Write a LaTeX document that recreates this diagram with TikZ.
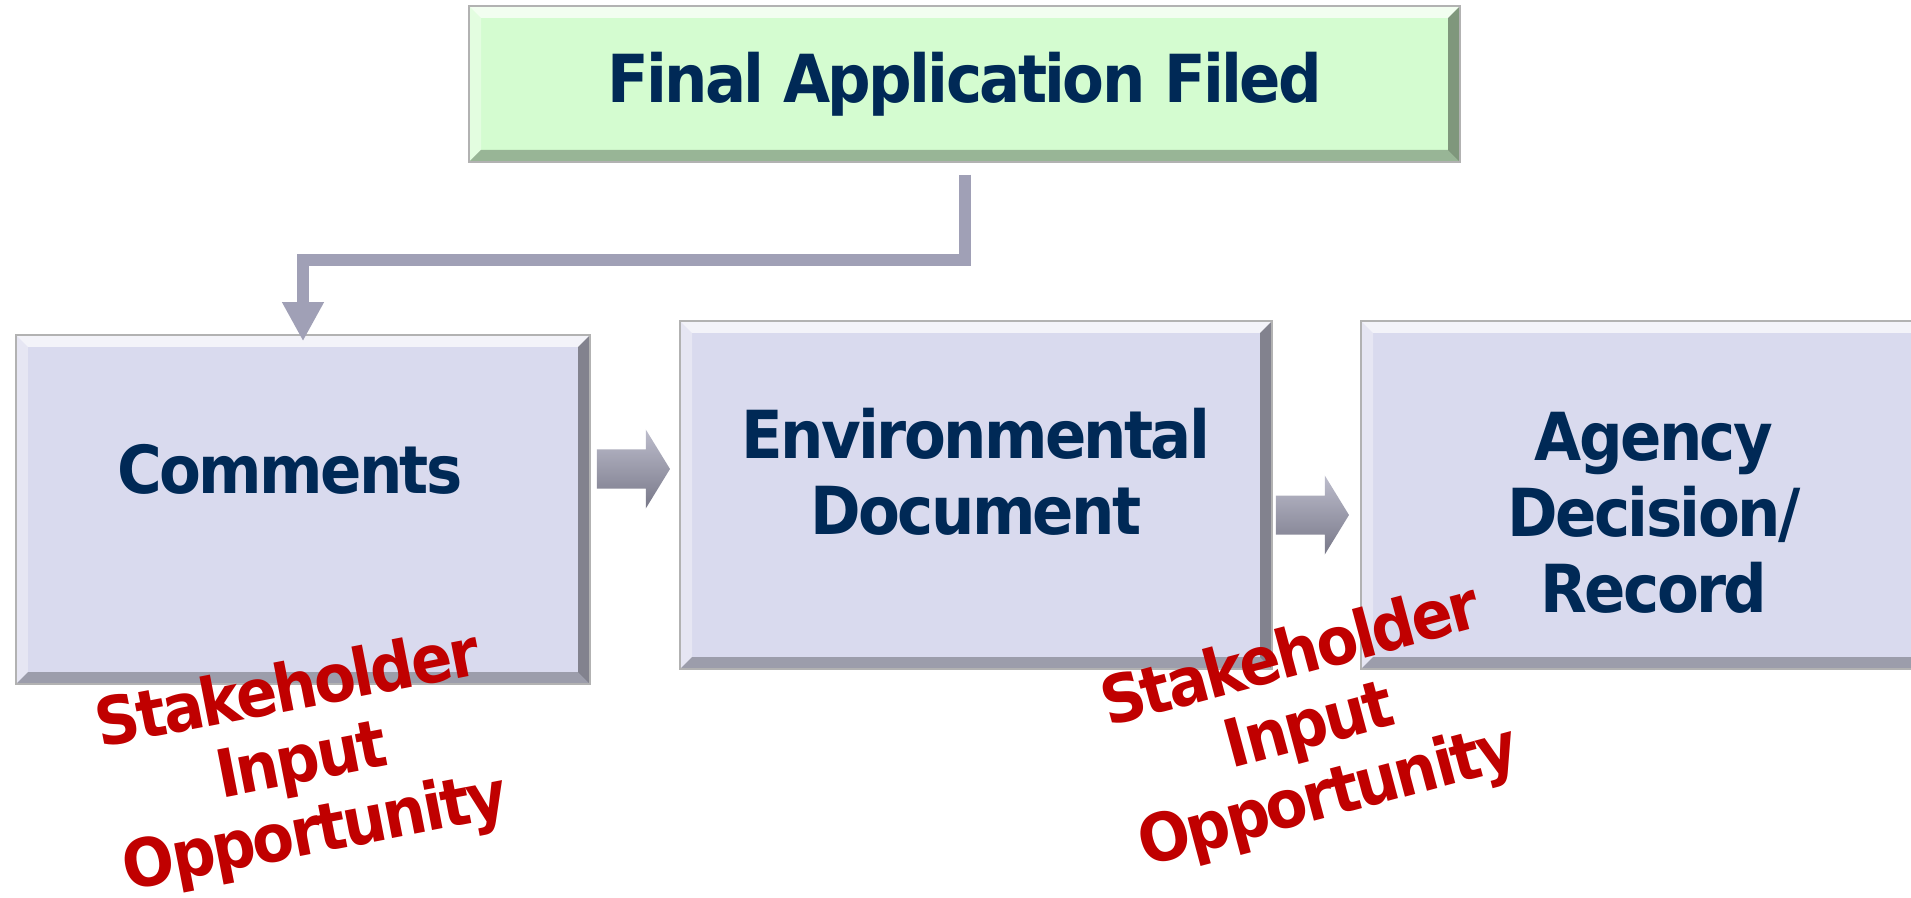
\documentclass[tikz,border=0pt]{standalone}
\usepackage{fontspec}
\setmainfont{DejaVu Sans}[FakeStretch=0.92,LetterSpace=-4]
\usetikzlibrary{arrows.meta}
\usetikzlibrary{shapes.arrows}

\definecolor{navy}{RGB}{0,41,86}
\definecolor{redtxt}{RGB}{192,0,0}
\definecolor{mint}{RGB}{212,252,208}
\definecolor{lav}{RGB}{217,218,238}
\definecolor{steel}{RGB}{160,160,182}

\def\bw{4.8pt}

\begin{document}
\begin{tikzpicture}[x=0.4pt,y=-0.4pt]
\tikzset{bevel/.style={path picture={
  \coordinate (nw) at (path picture bounding box.north west);
  \coordinate (ne) at (path picture bounding box.north east);
  \coordinate (sw) at (path picture bounding box.south west);
  \coordinate (se) at (path picture bounding box.south east);
  \fill[white,opacity=.7] (nw) -- (ne) -- ([shift={(-\bw,-\bw)}]ne) -- ([shift={(\bw,-\bw)}]nw) -- cycle;
  \fill[white,opacity=.35] (nw) -- ([shift={(\bw,-\bw)}]nw) -- ([shift={(\bw,\bw)}]sw) -- (sw) -- cycle;
  \fill[black,opacity=.4] (ne) -- (se) -- ([shift={(-\bw,\bw)}]se) -- ([shift={(-\bw,-\bw)}]ne) -- cycle;
  \fill[black,opacity=.28] (sw) -- (se) -- ([shift={(-\bw,\bw)}]se) -- ([shift={(\bw,\bw)}]sw) -- cycle;
}}}
\tikzset{box/.style={draw=gray!60, line width=0.6pt, bevel, inner sep=0pt}}
\tikzset{boxtext/.style={font=\bfseries\fontsize{26.5pt}{30.4pt}\selectfont, text=navy, align=center, inner sep=0pt}}
\tikzset{sio/.style={font=\bfseries\fontsize{26.5pt}{29pt}\selectfont, text=redtxt, align=center, inner sep=0pt}}
\tikzset{conn/.style={draw=steel, line width=4.8pt, -{Triangle[width=15.6pt,length=15.6pt]}}}
\tikzset{barrow/.style={single arrow, single arrow head extend=8pt, single arrow tip angle=117,
  minimum height=29.2pt, inner xsep=0pt, inner ysep=7.6pt, draw=none,
  top color=steel!70, middle color=white!85!steel, bottom color=steel!75!black}}

\useasboundingbox (0,0) rectangle (1911,898);

% boxes
\node[box, fill=mint, minimum width=396.4pt, minimum height=62.4pt] (fin) at (964.5,84) {};
\node[boxtext] (fintxt) at (fin.center) {Final Application Filed};
\node[box, fill=lav, minimum width=229.6pt, minimum height=139.6pt] (com) at (303,509.5) {};
\node[boxtext] (comtxt) at ([shift={(-5.2pt,16.2pt)}]com.center) {Comments};
\node[box, fill=lav, minimum width=236.8pt, minimum height=139.2pt] (env) at (976,495) {};
\node[boxtext] (envtxt) at ([yshift=9.2pt]env.center) {Environmental\\Document};
\node[box, fill=lav, minimum width=236.8pt, minimum height=139.2pt] (agy) at (1657,495) {};
\node[boxtext] (agytxt) at ([shift={(-1.2pt,-7.2pt)}]agy.center) {Agency\\Decision/\\Record};

% arrows
\draw[conn] ([yshift=-\bw]fin.south) -- ++(0,-34pt) -| ([yshift=-2.8pt]com.north);
\node[barrow] (a1) at (627.5,469) {};
\node[barrow] (a2) at (1306.5,515) {};

% stakeholder notes
\node[sio, rotate=11] (sio1) at (302,764) {Stakeholder\\Input\\Opportunity};
\node[sio, rotate=15] (sio2) at (1310,729) {Stakeholder\\Input\\Opportunity};
\end{tikzpicture}
\end{document}
